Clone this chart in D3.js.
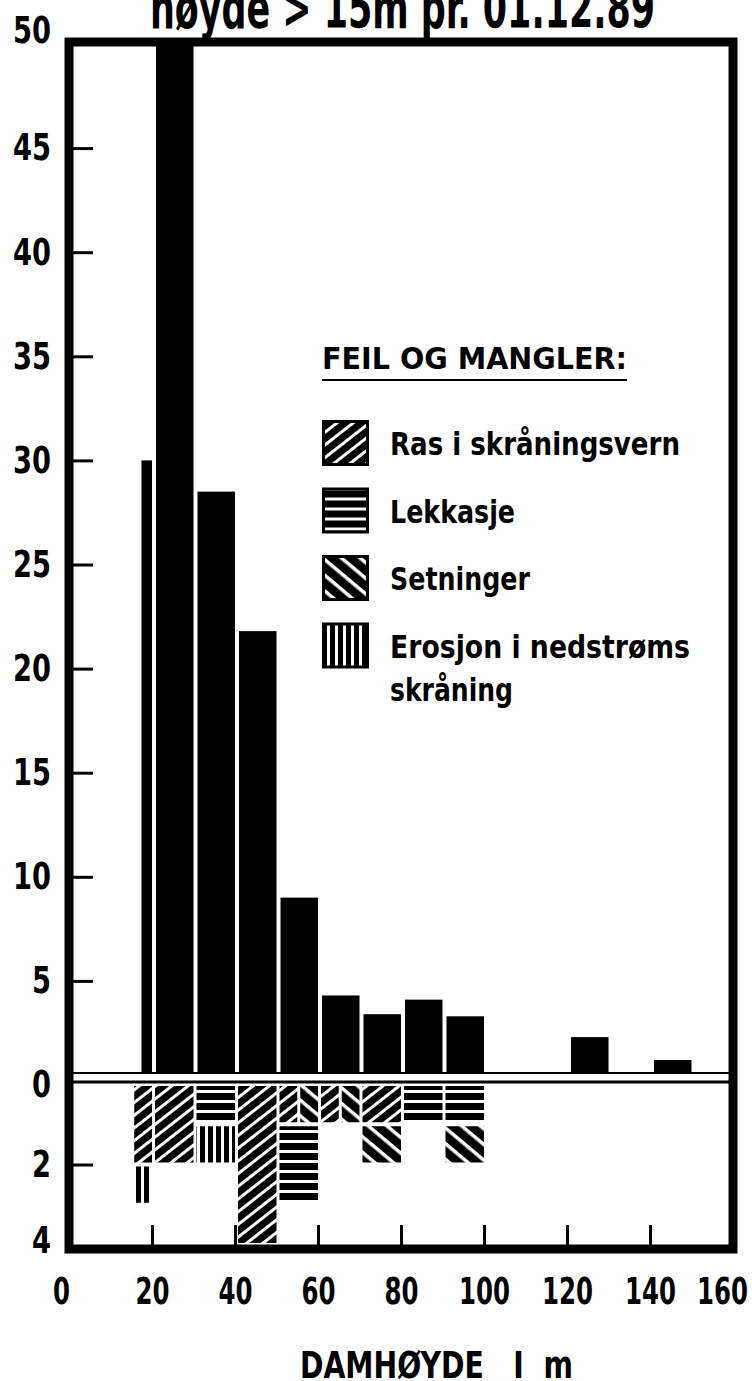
<!DOCTYPE html>
<html>
<head>
<meta charset="utf-8">
<script src="https://cdnjs.cloudflare.com/ajax/libs/d3/7.8.5/d3.min.js"></script>
<style>
  html, body { margin: 0; padding: 0; background: #fff; }
  svg text { font-family: "Liberation Sans Narrow", "DejaVu Sans Condensed", "Arial Narrow", "DejaVu Sans", sans-serif; font-stretch: condensed; font-weight: bold; fill: #000; }
</style>
</head>
<body>
<svg id="chart" width="752" height="1381"></svg>
<script>
//Dam height bins (m) and number of dams in each bin
var binStart = [16.5, 20, 30, 40, 50, 60, 70, 80, 90, 120, 140];
var binEnd   = [20, 30, 40, 50, 60, 70, 80, 90, 100, 130, 150];
var damCounts = [30, 52, 28.5, 21.8, 9.0, 4.3, 3.4, 4.1, 3.3, 2.3, 1.2];

//Failures per bin, stacked downwards. "a/b" = drawn side by side in one layer
var failStart = [15, 20, 30, 40, 50, 60, 70, 80, 90];
var failEnd   = [20, 30, 40, 50, 60, 70, 80, 90, 100];
var failCats = [
    ["ras", "erosjon"],
    ["ras"],
    ["lekkasje", "erosjon"],
    ["ras"],
    ["ras/setninger", "lekkasje"],
    ["ras/setninger"],
    ["ras", "setninger"],
    ["lekkasje"],
    ["lekkasje", "setninger"]
];
var failCounts = [[2, 1], [2], [1, 1], [4], [1, 2], [1], [1, 1], [1], [1, 1]];

//Axis ticks
var upTicks = [5, 10, 15, 20, 25, 30, 35, 40, 45];
var upLabels = [0, 5, 10, 15, 20, 25, 30, 35, 40, 45, 50];
var loTicks = [2];
var loLabels = [2, 4];
var xTicks = [20, 40, 60, 80, 100, 120, 140];
var xLabels = [0, 20, 40, 60, 80, 100, 120, 140, 160];

//Legend
var legendKeys = ["ras", "lekkasje", "setninger", "erosjon"];
var legendLabels = [["Ras i skråningsvern"], ["Lekkasje"], ["Setninger"], ["Erosjon i nedstrøms", "skråning"]];

var svg = d3.select("#chart");

var x = d3.scaleLinear().domain([0, 160]).range([69, 733]);
var yUp = d3.scaleLinear().domain([0, 50]).range([1085, 44]);
var yLo = d3.scaleLinear().domain([0, 4]).range([1084, 1245]);

var frameTop = 42, frameBottom = 1249;
var upBase = 1073;

//squeeze a text to a given width (the original type is a narrow bold face)
function fit(sel, w){
    sel.attr("textLength", w).attr("lengthAdjust", "spacingAndGlyphs");
}

//Hatch patterns: black with white stripes
var hatch = {
    ras:       {angle: -38, period: 10, white: 3},
    lekkasje:  {angle: 0,   period: 10, white: 3},
    setninger: {angle: 40,  period: 12, white: 3.5},
    erosjon:   {angle: 90,  period: 8,  white: 3}
};
var defs = svg.append("defs");
Object.keys(hatch).forEach(function(k){
    var h = hatch[k];
    var p = defs.append("pattern")
        .attr("id", "pat-" + k)
        .attr("patternUnits", "userSpaceOnUse")
        .attr("width", h.period)
        .attr("height", h.period)
        .attr("patternTransform", "rotate(" + h.angle + ")");
    p.append("rect").attr("width", h.period).attr("height", h.period).attr("fill", "#000");
    p.append("rect").attr("y", 0).attr("width", h.period).attr("height", h.white).attr("fill", "#fff");
});

defs.append("clipPath").attr("id", "plotclip")
    .append("rect")
    .attr("x", x(0)).attr("y", frameTop)
    .attr("width", x(160) - x(0)).attr("height", frameBottom - frameTop);

//Title (cut off by the page top)
svg.append("text")
    .attr("x", 150).attr("y", 28)
    .style("font-size", "57px")
    .text("høyde > 15m pr. 01.12.89")
    .call(fit, 505);

//Upper bars
var plot = svg.append("g").attr("clip-path", "url(#plotclip)");
var bars = binStart.map(function(s, i){ return {s: s, e: binEnd[i], v: damCounts[i]}; });
plot.selectAll("rect.dam")
    .data(bars)
    .enter().append("rect")
    .attr("class", "dam")
    .attr("x", function(d){ return x(d.s) + 4; })
    .attr("width", function(d){ return x(d.e) - x(d.s) - 4; })
    .attr("y", function(d){ return yUp(d.v); })
    .attr("height", function(d){ return upBase - yUp(d.v); })
    .attr("fill", "#000");

//Lower stacked failures
var segs = [];
failCats.forEach(function(layers, i){
    var acc = 0;
    layers.forEach(function(cat, j){
        var n = failCounts[i][j];
        var parts = cat.split("/");
        var x0 = x(failStart[i]) + 3, x1 = x(failEnd[i]);
        var w = (x1 - x0 - 3 * (parts.length - 1)) / parts.length;
        parts.forEach(function(c, k){
            segs.push({cat: c, x: x0 + k * (w + 3), w: w, from: acc, to: acc + n});
        });
        acc += n;
    });
});
plot.selectAll("rect.fail")
    .data(segs)
    .enter().append("rect")
    .attr("class", "fail")
    .attr("x", function(d){ return d.x; })
    .attr("width", function(d){ return d.w; })
    .attr("y", function(d){ return yLo(d.from) + 2; })
    .attr("height", function(d){ return yLo(d.to) - yLo(d.from) - 4; })
    .attr("fill", function(d){ return "url(#pat-" + d.cat + ")"; });

//Zero lines
svg.append("line").attr("x1", x(0)).attr("x2", x(160))
    .attr("y1", upBase).attr("y2", upBase)
    .attr("stroke", "#000").attr("stroke-width", 2);
svg.append("line").attr("x1", x(0)).attr("x2", x(160))
    .attr("y1", 1082).attr("y2", 1082)
    .attr("stroke", "#000").attr("stroke-width", 3);

//Frame
svg.append("rect")
    .attr("x", x(0)).attr("y", frameTop)
    .attr("width", x(160) - x(0)).attr("height", frameBottom - frameTop)
    .attr("fill", "none").attr("stroke", "#000").attr("stroke-width", 9);

//Inner ticks
function styleTicks(g){
    g.select(".domain").remove();
    g.selectAll(".tick line").attr("stroke", "#000").attr("stroke-width", 3);
}
svg.append("g").attr("transform", "translate(" + (x(0) + 4) + ",0)")
    .call(d3.axisRight(yUp).tickValues(upTicks).tickSize(20).tickFormat(""))
    .call(styleTicks);
svg.append("g").attr("transform", "translate(" + (x(0) + 4) + ",0)")
    .call(d3.axisRight(yLo).tickValues(loTicks).tickSize(20).tickFormat(""))
    .call(styleTicks);
svg.append("g").attr("transform", "translate(0," + (frameBottom - 4) + ")")
    .call(d3.axisTop(x).tickValues(xTicks).tickSize(20).tickFormat(""))
    .call(styleTicks);

//Tick labels
function styleLabels(charW){
    return function(g){
        g.select(".domain").remove();
        g.selectAll(".tick line").remove();
        g.selectAll(".tick text")
            .attr("fill", "#000")
            .style("font-size", "37px")
            .style("font-family", null)
            .each(function(){
                var t = d3.select(this);
                fit(t, t.text().length * charW);
            });
    };
}
var fmt = d3.format("d");
var yl = svg.append("g").attr("transform", "translate(51,0)")
    .call(d3.axisLeft(yUp).tickValues(upLabels).tickSize(0).tickPadding(0).tickFormat(fmt))
    .call(styleLabels(19));
//the 50 sits above the top corner of the frame
yl.selectAll(".tick text").filter(function(d){ return d === 50; }).attr("y", -13);
var ll = svg.append("g").attr("transform", "translate(51,0)")
    .call(d3.axisLeft(yLo).tickValues(loLabels).tickSize(0).tickPadding(0).tickFormat(fmt))
    .call(styleLabels(19));
ll.selectAll(".tick text").filter(function(d){ return d === 4; }).attr("y", -4);
var xl = svg.append("g").attr("transform", "translate(0,1304)")
    .call(d3.axisBottom(x).tickValues(xLabels).tickSize(0).tickPadding(0).tickFormat(fmt))
    .call(styleLabels(17));
xl.selectAll(".tick text").attr("y", 0).attr("dy", 0);
//end labels sit a little inside the frame corners
xl.selectAll(".tick text").filter(function(d){ return d === 0; }).attr("dx", -8);
xl.selectAll(".tick text").filter(function(d){ return d === 160; }).attr("dx", -11);

//X axis title
svg.append("text")
    .attr("x", 300).attr("y", 1378)
    .style("font-size", "37px")
    .style("white-space", "pre")
    .text("DAMHØYDE   I  m")
    .call(fit, 273);

//Legend
var lg = svg.append("g");
lg.append("text")
    .attr("x", 322).attr("y", 369)
    .style("font-size", "30px")
    .text("FEIL OG MANGLER:")
    .call(fit, 305);
lg.append("line")
    .attr("x1", 322).attr("x2", 627).attr("y1", 380).attr("y2", 380)
    .attr("stroke", "#000").attr("stroke-width", 2);

var legendWidths = [[290], [125], [140], [300, 123]];
var rows = lg.selectAll("g.row")
    .data(legendKeys)
    .enter().append("g")
    .attr("class", "row")
    .attr("transform", function(d, i){ return "translate(322," + (420 + i * 67.5) + ")"; });
rows.append("rect")
    .attr("x", 1.5).attr("y", 1.5)
    .attr("width", 44).attr("height", 43)
    .attr("fill", function(d){ return "url(#pat-" + d + ")"; })
    .attr("stroke", "#000").attr("stroke-width", 3);
rows.each(function(d, i){
    var g = d3.select(this);
    legendLabels[i].forEach(function(line, j){
        g.append("text")
            .attr("x", 68).attr("y", 35 + j * 43)
            .style("font-size", "32px")
            .text(line)
            .call(fit, legendWidths[i][j]);
    });
});
</script>
</body>
</html>
